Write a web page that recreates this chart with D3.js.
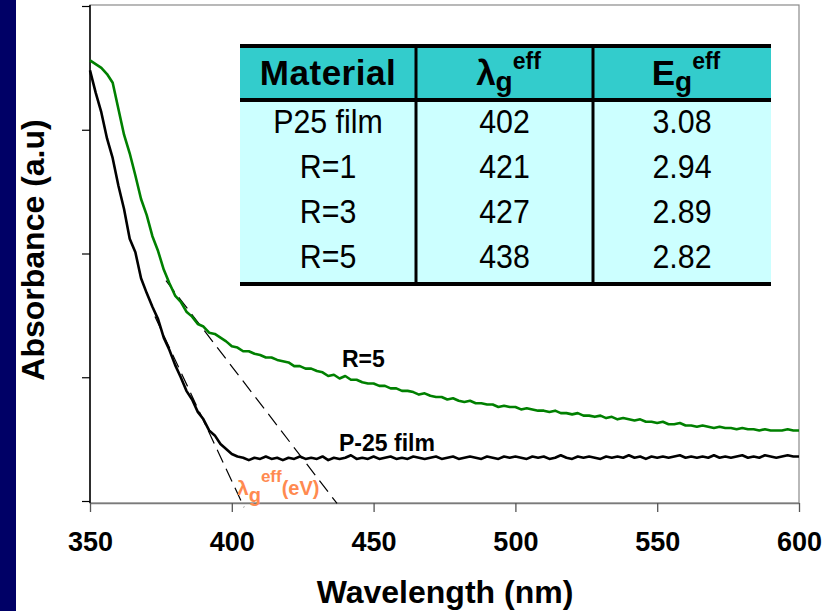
<!DOCTYPE html>
<html>
<head>
<meta charset="utf-8">
<script src="https://cdn.jsdelivr.net/npm/d3@7"></script>
<style>
  html, body { margin: 0; padding: 0; background: #ffffff; }
  svg { display: block; }
</style>
</head>
<body>
<svg id="chart" width="838" height="611"></svg>
<script>
// ---------------- DATA ----------------
const wavelength = [350,352,354,356,358,360,362,364,366,368,370,372,374,376,378,380,382,384,386,388,390,392,394,396,398,400,402,404,406,408,410,412,414,416,418,420,422,424,426,428,430,432,434,436,438,440,442,444,446,448,450,452,454,456,458,460,462,464,466,468,470,472,474,476,478,480,482,484,486,488,490,492,494,496,498,500,502,504,506,508,510,512,514,516,518,520,522,524,526,528,530,532,534,536,538,540,542,544,546,548,550,552,554,556,558,560,562,564,566,568,570,572,574,576,578,580,582,584,586,588,590,592,594,596,598,600];

const p25Film = [3.48,3.30,3.14,2.93,2.77,2.55,2.36,2.12,2.01,1.80,1.68,1.57,1.47,1.32,1.22,1.10,1.00,0.89,0.82,0.72,0.66,0.57,0.53,0.46,0.42,0.38,0.36,0.35,0.33,0.35,0.34,0.36,0.34,0.35,0.33,0.35,0.34,0.36,0.34,0.35,0.34,0.36,0.33,0.35,0.34,0.35,0.37,0.34,0.35,0.34,0.36,0.34,0.35,0.36,0.34,0.35,0.34,0.36,0.35,0.34,0.35,0.36,0.34,0.35,0.36,0.34,0.35,0.36,0.35,0.34,0.36,0.35,0.34,0.36,0.35,0.36,0.35,0.34,0.36,0.35,0.36,0.34,0.35,0.37,0.35,0.34,0.36,0.35,0.36,0.35,0.34,0.36,0.35,0.36,0.35,0.37,0.35,0.36,0.34,0.36,0.35,0.36,0.35,0.36,0.37,0.35,0.36,0.35,0.36,0.35,0.37,0.35,0.36,0.35,0.36,0.37,0.35,0.36,0.35,0.37,0.36,0.35,0.36,0.37,0.36,0.36];

const r5 = [3.56,3.53,3.50,3.45,3.38,3.17,2.96,2.81,2.63,2.44,2.31,2.14,2.02,1.87,1.76,1.66,1.61,1.53,1.49,1.43,1.41,1.36,1.35,1.32,1.29,1.25,1.24,1.21,1.21,1.19,1.18,1.16,1.16,1.14,1.13,1.12,1.09,1.09,1.07,1.07,1.05,1.04,1.01,1.02,0.99,1.01,0.98,0.98,0.96,0.95,0.95,0.93,0.93,0.91,0.91,0.89,0.89,0.88,0.86,0.87,0.85,0.84,0.84,0.82,0.83,0.81,0.80,0.81,0.79,0.79,0.78,0.78,0.76,0.77,0.76,0.76,0.74,0.75,0.74,0.73,0.73,0.72,0.73,0.71,0.71,0.70,0.71,0.69,0.69,0.68,0.69,0.67,0.68,0.66,0.67,0.66,0.65,0.66,0.64,0.64,0.63,0.64,0.62,0.62,0.63,0.61,0.61,0.60,0.61,0.60,0.59,0.60,0.59,0.59,0.58,0.59,0.58,0.58,0.57,0.58,0.57,0.57,0.57,0.58,0.57,0.57];

// tangent (extrapolation) lines: [wavelength, absorbance] end points
const tangentP25 = [[372.9, 1.49], [404.3, -0.05]];
const tangentR5  = [[376.8, 1.78], [437.1, -0.02]];

const xTicks = [350, 400, 450, 500, 550, 600];
const yTicks = [0, 1, 2, 3, 4];

// table
const tableHeader = ["Material", "λ", "E"];
const materials = ["P25 film", "R=1", "R=3", "R=5"];
const lambdaEff = ["402", "421", "427", "438"];
const egEff = ["3.08", "2.94", "2.89", "2.82"];

// ---------------- DRAW ----------------
const svg = d3.select("#chart");
const W = 838, H = 611;
const FONT = "Liberation Sans, Arial, Helvetica, sans-serif";
svg.append("rect").attr("x", 0).attr("y", 0).attr("width", W).attr("height", H).attr("fill", "#ffffff");
svg.append("rect").attr("x", 0).attr("y", 0).attr("width", 16).attr("height", H).attr("fill", "#000066");

const x = d3.scaleLinear().domain([350, 600]).range([90, 799]);
const y = d3.scaleLinear().domain([0, 4]).range([501, 6]);
const plotTop = 5, plotBottom = 503;

// frame
svg.append("rect")
  .attr("x", x(350)).attr("y", plotTop)
  .attr("width", x(600) - x(350)).attr("height", plotBottom - plotTop)
  .attr("fill", "none").attr("stroke", "#8a8a8a").attr("stroke-width", 1.2);

// x axis
const xAxis = svg.append("g")
  .attr("transform", `translate(0,${plotBottom})`)
  .call(d3.axisBottom(x).tickValues(xTicks).tickSize(9).tickSizeOuter(0).tickPadding(20).tickFormat(d3.format("d")));
xAxis.select(".domain").attr("stroke", "#7a7a7a").attr("stroke-width", 1.5);
xAxis.selectAll(".tick line").attr("stroke", "#555").attr("stroke-width", 1.3);
xAxis.selectAll(".tick text")
  .attr("font-family", FONT)
  .attr("font-weight", "bold").attr("font-size", 27).attr("fill", "#000");

// y axis (no labels)
const yAxis = svg.append("g")
  .attr("transform", `translate(${x(350)},0)`)
  .call(d3.axisLeft(y).tickValues(yTicks).tickSize(8).tickSizeOuter(0).tickFormat(""));
yAxis.select(".domain").attr("d", `M0,${plotTop}V${plotBottom}`).attr("stroke", "#000").attr("stroke-width", 1.5);
yAxis.selectAll(".tick line").attr("stroke", "#000").attr("stroke-width", 1.2);

// axis titles
svg.append("text")
  .attr("x", 445).attr("y", 603)
  .attr("text-anchor", "middle")
  .attr("font-family", FONT)
  .attr("font-weight", "bold").attr("font-size", 32)
  .text("Wavelength (nm)");
svg.append("text")
  .attr("transform", "translate(44,250) rotate(-90)")
  .attr("text-anchor", "middle")
  .attr("font-family", FONT)
  .attr("font-weight", "bold").attr("font-size", 32)
  .text("Absorbance (a.u)");

// tangent dashed lines
const lineGen = d3.line().x(d => x(d[0])).y(d => y(d[1]));
[tangentP25, tangentR5].forEach(t => {
  svg.append("path").attr("d", lineGen(t))
    .attr("fill", "none").attr("stroke", "#000").attr("stroke-width", 1.2)
    .attr("stroke-dasharray", "14,7");
});

// curves
const curve = d3.line().x((d, i) => x(wavelength[i])).y(d => y(d));
svg.append("path").datum(r5).attr("d", curve)
  .attr("fill", "none").attr("stroke", "#008000").attr("stroke-width", 2.6).attr("stroke-linejoin", "round");
svg.append("path").datum(p25Film).attr("d", curve)
  .attr("fill", "none").attr("stroke", "#000").attr("stroke-width", 2.6).attr("stroke-linejoin", "round");

// curve labels
svg.append("text").attr("x", 342).attr("y", 367)
  .attr("font-family", FONT).attr("font-weight", "bold").attr("font-size", 23)
  .text("R=5");
svg.append("text").attr("x", 339).attr("y", 451)
  .attr("font-family", FONT).attr("font-weight", "bold").attr("font-size", 23)
  .text("P-25 film");

// orange annotation
const ann = svg.append("text").attr("x", 237).attr("y", 495)
  .attr("font-family", FONT).attr("font-weight", "bold")
  .attr("fill", "#ff8a50");
ann.append("tspan").attr("font-size", 21).text("λ");
ann.append("tspan").attr("font-size", 20).attr("dy", 7).text("g");
ann.append("tspan").attr("font-size", 17).attr("dy", -20).text("eff");
ann.append("tspan").attr("font-size", 20).attr("dy", 13).text("(eV)");

// ---------------- TABLE ----------------
const colX = [240, 416, 593, 771];
const tTop = 46, hBottom = 100, tBottom = 284;
const tbl = svg.append("g");
tbl.append("rect").attr("x", colX[0]).attr("y", tTop).attr("width", colX[3] - colX[0]).attr("height", hBottom - tTop).attr("fill", "#33CCCC");
tbl.append("rect").attr("x", colX[0]).attr("y", hBottom).attr("width", colX[3] - colX[0]).attr("height", tBottom - hBottom).attr("fill", "#CCFFFF");
[tTop, hBottom, tBottom].forEach(yy => {
  tbl.append("line").attr("x1", colX[0]).attr("x2", colX[3]).attr("y1", yy).attr("y2", yy)
    .attr("stroke", "#000").attr("stroke-width", 4);
});
[colX[1], colX[2]].forEach(xx => {
  tbl.append("line").attr("x1", xx).attr("x2", xx).attr("y1", tTop).attr("y2", tBottom)
    .attr("stroke", "#000").attr("stroke-width", 3);
});
const colC = [0, 1, 2].map(i => (colX[i] + colX[i + 1]) / 2);
tbl.append("text").attr("x", colC[0]).attr("y", 85).attr("text-anchor", "middle")
  .attr("font-family", FONT).attr("font-weight", "bold").attr("font-size", 35).attr("letter-spacing", 0.5)
  .text(tableHeader[0]);
[1, 2].forEach(i => {
  const t = tbl.append("text").attr("x", colC[i] + 4).attr("y", 85).attr("text-anchor", "middle")
    .attr("font-family", FONT).attr("font-weight", "bold");
  t.append("tspan").attr("font-size", 35).text(tableHeader[i]);
  t.append("tspan").attr("font-size", 28).attr("dy", 6).text("g");
  t.append("tspan").attr("font-size", 23).attr("dy", -22).text("eff");
});
const rowBase = [133, 178, 223, 268];
[materials, lambdaEff, egEff].forEach((col, ci) => {
  col.forEach((v, ri) => {
    tbl.append("text")
      .attr("transform", `translate(${colC[ci]},${rowBase[ri]}) scale(0.92,1)`)
      .attr("text-anchor", "middle")
      .attr("font-family", FONT).attr("font-size", 33).attr("fill", "#000")
      .text(v);
  });
});
</script>
</body>
</html>
